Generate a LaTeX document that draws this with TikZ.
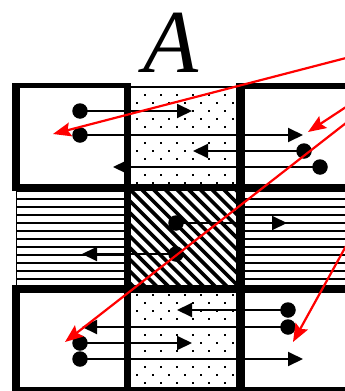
\documentclass[tikz,border=0pt]{standalone}
\usepackage{fontspec}
\newfontfamily\timesfont{Liberation Serif}
\usetikzlibrary{arrows.meta}
\definecolor{arrred}{RGB}{255,0,0}
\tikzset{
  dot/.style={circle,fill=black,inner sep=0pt,minimum size=15.5pt},
  blk/.style={line width=2pt,-{Triangle[length=15pt,width=14pt]}},
  redarrow/.style={draw=arrred,line width=2.2pt,-{Stealth[length=18pt,width=14pt,inset=3pt]}},
  stripe/.style={line width=1.8pt},
  hatchline/.style={line width=3.6pt},
}
\begin{document}
\begin{tikzpicture}[x=1pt,y=-1pt]
\useasboundingbox (0,0) rectangle (345,391);
\fill[white] (0,0) rectangle (345,391);

% dotted cells (centre top and bottom)
\begin{scope}
\clip (131,88) rectangle (236,184);
\foreach \j in {0,...,12} \foreach \i in {0,...,6} {
  \pgfmathsetmacro\xx{137+16*\i+8*mod(\j,2)}
  \fill (\xx-1,87+8*\j-1) rectangle ++(2,2);
}
\end{scope}
\begin{scope}
\clip (131,293) rectangle (236,387);
\foreach \j in {26,...,37} \foreach \i in {0,...,6} {
  \pgfmathsetmacro\xx{137+16*\i+8*mod(\j,2)}
  \fill (\xx-1,87+8*\j-1) rectangle ++(2,2);
}
\end{scope}

% hatched centre cell
\begin{scope}
\clip (131,191) rectangle (236,285);
\foreach \k in {-10,...,10}
  \draw[hatchline] ({-59.5+11.7*\k+180},180) -- ({-59.5+11.7*\k+300},300);
\end{scope}

% striped side cells of the middle row
\foreach \j in {0,...,11} {
  \draw[stripe] (16,191+8*\j) -- (124,191+8*\j);
  \draw[stripe] (245,191+8*\j) -- (345,191+8*\j);
}
\draw[line width=1.5pt] (16.5,191) -- (16.5,285);

% thick grid bars
\fill (12,83) rectangle (20,191);
\fill (12,285) rectangle (20,391);
\fill (124,83) rectangle (131,391);
\fill (236,83) rectangle (245,391);
\fill (12,83) rectangle (131,88);
\fill (236,83) rectangle (345,89);
\fill (131,86) rectangle (236,88);
\fill (12,184) rectangle (345,191);
\fill (12,285) rectangle (345,293);
\fill (12,387) rectangle (345,391);

% black arrows: dots and tips
\node[dot] (d1) at (80,111) {};
\node[dot] (d2) at (80,135) {};
\node[dot] (d3) at (304,151) {};
\node[dot] (d4) at (320,167) {};
\node[dot] (d5) at (176,223) {};
\node[dot] (d6) at (176,254) {};
\node[dot] (d7) at (288,310) {};
\node[dot] (d8) at (288,327) {};
\node[dot] (d9) at (80,343) {};
\node[dot] (d10) at (80,359) {};
\coordinate (t1) at (192,111);
\coordinate (t2) at (303,135);
\coordinate (t3) at (193,151);
\coordinate (t4) at (113,167);
\coordinate (t5) at (287,223);
\coordinate (t6) at (82,254);
\coordinate (t7) at (177,310);
\coordinate (t8) at (82,327);
\coordinate (t9) at (192,343);
\coordinate (t10) at (303,359);
\foreach \n in {1,...,10} \draw[blk] (d\n.center) -- (t\n);

% red arrows
\coordinate (r1s) at (346,58);
\coordinate (r1e) at (53,134);
\coordinate (r2s) at (346,107);
\coordinate (r2e) at (308,132);
\coordinate (r3s) at (346,123);
\coordinate (r3e) at (65,342);
\coordinate (r4s) at (346,246);
\coordinate (r4e) at (293,342);
\foreach \n in {1,...,4} \draw[redarrow] (r\n s) -- (r\n e);

% label
\node[font=\timesfont\itshape\fontsize{90}{90}\selectfont,inner sep=0pt] (A) at (171,43) {A};
\end{tikzpicture}
\end{document}
